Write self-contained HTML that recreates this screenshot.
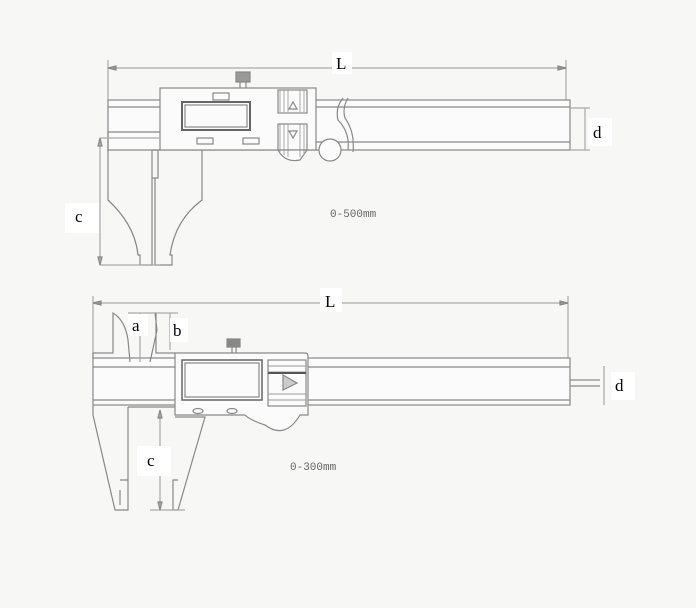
<!DOCTYPE html>
<html><head><meta charset="utf-8"><style>
html,body{margin:0;padding:0;background:#f8f8f7;}
svg{display:block;}
text{font-family:"Liberation Serif",serif;}
</style></head><body>
<svg width="696" height="608" viewBox="0 0 696 608" xmlns="http://www.w3.org/2000/svg">
<rect width="696" height="608" fill="#f7f7f6"/>
<g stroke="#888" fill="none" stroke-width="1.2">
<!-- TOP caliper dims -->
<line x1="108" y1="68" x2="566" y2="68" stroke="#aaa"/>
<line x1="108" y1="60" x2="108" y2="100" stroke="#aaa"/>
<line x1="566" y1="60" x2="566" y2="100" stroke="#aaa"/>
<polygon points="108,68 116,66 116,70" fill="#999"/>
<polygon points="566,68 558,66 558,70" fill="#999"/>
<!-- beam -->
<rect x="108" y="100" width="462" height="50" fill="#fbfbfb"/>
<line x1="108" y1="107" x2="570" y2="107"/>
<line x1="108" y1="132" x2="160" y2="132"/>
<line x1="316" y1="142" x2="570" y2="142"/>
<line x1="570" y1="108" x2="590" y2="108" stroke="#aaa"/>
<line x1="570" y1="150" x2="590" y2="150" stroke="#aaa"/>
<line x1="585" y1="108" x2="585" y2="150" stroke="#aaa"/>
<!-- head -->
<rect x="160" y="88" width="156" height="62" fill="#fbfbfb"/>
<path d="M278 150 Q285 163 300 160 L307 150" fill="#fbfbfb"/>
<rect x="182" y="102" width="68" height="28" stroke-width="2" stroke="#666"/>
<rect x="185" y="105" width="62" height="22"/>
<rect x="213" y="93" width="16" height="7"/>
<rect x="197" y="138" width="16" height="6"/>
<rect x="243" y="138" width="16" height="6"/>
<g stroke="#aaa" stroke-width="1">
<line x1="280" y1="90" x2="280" y2="112"/><line x1="284" y1="90" x2="284" y2="112"/><line x1="288" y1="90" x2="288" y2="112"/><line x1="300" y1="90" x2="300" y2="112"/><line x1="304" y1="90" x2="304" y2="112"/>
<line x1="280" y1="124" x2="280" y2="152"/><line x1="284" y1="124" x2="284" y2="155"/><line x1="288" y1="124" x2="288" y2="157"/><line x1="300" y1="124" x2="300" y2="157"/><line x1="304" y1="124" x2="304" y2="155"/>
</g>
<rect x="278" y="90" width="29" height="23"/>
<rect x="278" y="124" width="29" height="26"/>
<polygon points="289,109 297,109 293,102"/>
<polygon points="289,131 297,131 293,138"/>
<rect x="236" y="72" width="14" height="10" fill="#999"/>
<line x1="240" y1="82" x2="240" y2="88"/><line x1="246" y1="82" x2="246" y2="88"/>
<circle cx="330" cy="150" r="11" fill="#fbfbfb"/>
<path d="M343 98 Q335 108 338 120 Q350 132 348 150"/>
<path d="M348 98 Q342 108 345 118 Q355 132 353 152"/>
<!-- jaws -->
<path d="M108 132 V200 Q135 225 138 255 H140 V265 H152 V150"/>
<path d="M152 150 H158 V178 H152"/>
<path d="M155 178 V265 H172 V255 H170 Q175 220 202 200 V150"/>
<line x1="100" y1="138" x2="160" y2="138" stroke="#aaa"/>
<line x1="100" y1="265" x2="160" y2="265" stroke="#aaa"/>
<line x1="100" y1="138" x2="100" y2="265" stroke="#aaa"/>
<line x1="100" y1="60" x2="100" y2="100" stroke="#aaa" style="display:none"/>
<!-- BOTTOM caliper dims -->
<line x1="93" y1="303" x2="568" y2="303" stroke="#aaa"/>
<line x1="93" y1="296" x2="93" y2="358" stroke="#aaa"/>
<line x1="568" y1="296" x2="568" y2="358" stroke="#aaa"/>
<polygon points="93,303 101,301 101,305" fill="#999"/>
<polygon points="568,303 560,301 560,305" fill="#999"/>
<!-- beam -->
<rect x="93" y="358" width="477" height="47" fill="#fbfbfb"/>
<line x1="93" y1="367" x2="570" y2="367"/>
<line x1="93" y1="400" x2="570" y2="400"/>
<line x1="570" y1="380" x2="600" y2="380"/>
<line x1="570" y1="386" x2="600" y2="386"/>
<line x1="604" y1="366" x2="604" y2="405" stroke="#aaa"/>
<!-- head -->
<path d="M175 353 H305 Q308 353 308 356 V415 H300 Q285 440 265 425 Q250 420 245 415 H175 Z" fill="#fbfbfb"/>
<rect x="182" y="360" width="80" height="40" stroke="#666" stroke-width="1.5"/>
<rect x="185" y="363" width="74" height="34"/>
<ellipse cx="198" cy="411" rx="5" ry="2.5"/>
<ellipse cx="232" cy="411" rx="5" ry="2.5"/>
<rect x="268" y="360" width="38" height="46"/>
<g stroke="#999" stroke-width="1"><line x1="268" y1="366" x2="306" y2="366"/><line x1="268" y1="372" x2="306" y2="372"/><line x1="268" y1="394" x2="306" y2="394"/><line x1="268" y1="400" x2="306" y2="400"/></g>
<line x1="268" y1="373" x2="306" y2="373" stroke="#555" stroke-width="2"/>
<polygon points="283,375 283,390 297,383" fill="#ccc"/>
<rect x="227" y="339" width="13" height="8" fill="#888"/>
<line x1="232" y1="347" x2="232" y2="353"/><line x1="236" y1="347" x2="236" y2="353"/>
<!-- upper jaws -->
<path d="M93 358 V353 H113 V313 Q125 320 128 340 L130 362"/>
<path d="M150 362 L157 330 L155 313 H156 V353 H175"/>
<line x1="128" y1="313" x2="178" y2="313" stroke="#aaa"/>
<line x1="140" y1="313" x2="140" y2="362" stroke="#aaa"/>
<line x1="170" y1="313" x2="170" y2="350" stroke="#aaa"/>
<!-- lower jaws -->
<path d="M93 405 V415 L115 510 H128 V407"/>
<path d="M120 480 H128 M120 490 V505"/>
<path d="M128 407 H175"/>
<path d="M175 417 L205 417 L178 510 H173 V480 H178"/>
<line x1="160" y1="410" x2="160" y2="510" stroke="#aaa"/>
<line x1="150" y1="510" x2="185" y2="510" stroke="#aaa"/>
<polygon points="160,410 158,418 162,418" fill="#aaa"/>
<polygon points="160,510 158,502 162,502" fill="#aaa"/>
<polygon points="100,138 98,146 102,146" fill="#aaa"/>
<polygon points="100,265 98,257 102,257" fill="#aaa"/>
</g>
<g fill="#666" font-size="11">
<text x="330" y="217" style="font-family:'Liberation Mono',monospace">0-500mm</text>
<text x="290" y="470" style="font-family:'Liberation Mono',monospace">0-300mm</text>
</g>
<g font-size="17" fill="#000">
<rect x="332" y="52" width="20" height="22" fill="#fff"/><text x="336" y="69">L</text>
<rect x="320" y="288" width="22" height="24" fill="#fff"/><text x="325" y="307">L</text>
<rect x="65" y="203" width="34" height="30" fill="#fff"/><text x="75" y="222">c</text>
<rect x="137" y="446" width="34" height="30" fill="#fff"/><text x="147" y="466">c</text>
<rect x="588" y="118" width="24" height="28" fill="#fff"/><text x="593" y="138">d</text>
<rect x="611" y="372" width="24" height="28" fill="#fff"/><text x="615" y="391">d</text>
<rect x="128" y="314" width="20" height="22" fill="#fff"/><text x="132" y="331">a</text>
<rect x="170" y="318" width="18" height="24" fill="#fff"/><text x="173" y="336">b</text>
</g>
</svg>
</body></html>
